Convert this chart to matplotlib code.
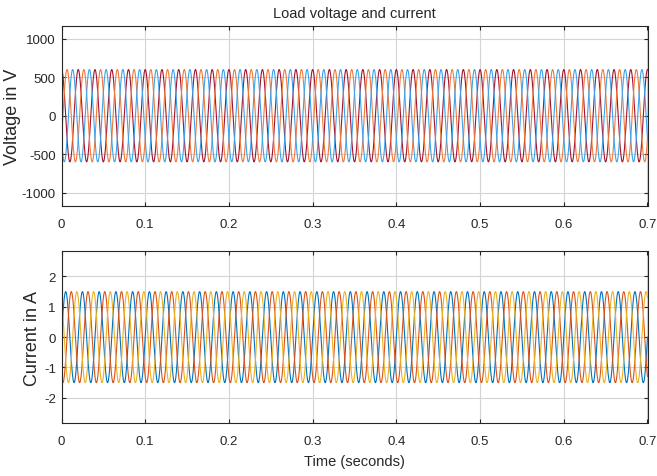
import numpy as np
import matplotlib
matplotlib.use("Agg")
import matplotlib.pyplot as plt

plt.rcParams['font.family'] = ['Liberation Sans', 'DejaVu Sans']
plt.rcParams['axes.unicode_minus'] = False

# waveform parameters
freq_hz = 50
t_end = 0.7
v_peak = 600
i_peak = 1.5
v_phase_deg = [0, -120, 120]      # red, orange, light blue
i_phase_deg = [0, -120, 120]      # blue, orange, yellow
v_colors = ['#A2142F', '#F07A3A', '#3BA3EC']
i_colors = ['#0072BD', '#D95319', '#EDB120']

x_ticks = [0, 0.1, 0.2, 0.3, 0.4, 0.5, 0.6, 0.7]
v_ticks = [-1000, -500, 0, 500, 1000]
i_ticks = [-2, -1, 0, 1, 2]

t = np.arange(0, t_end + 1e-9, 2e-4)
w = 2 * np.pi * freq_hz

fig = plt.figure(figsize=(6.57, 4.77), dpi=100)
ax1 = fig.add_axes([61.5/657, 1 - 206.7/477, 586/657, 180/477])
ax2 = fig.add_axes([61.5/657, 1 - 424/477, 586/657, 171.7/477])

for ph, c in zip(v_phase_deg, v_colors):
    ax1.plot(t, v_peak * np.cos(w * t + np.radians(ph)), color=c, lw=0.8)
for ph, c in zip(i_phase_deg, i_colors):
    ax2.plot(t, i_peak * np.sin(w * t + np.radians(ph)), color=c, lw=0.8)

ax1.set_ylim(-1170, 1170)
ax2.set_ylim(-2.83, 2.83)
ax1.set_yticks(v_ticks)
ax2.set_yticks(i_ticks)

for ax in (ax1, ax2):
    ax.set_xlim(0, t_end)
    ax.set_xticks(x_ticks)
    ax.set_xticklabels([f'{v:g}' for v in x_ticks])
    ax.grid(True, color='#d4d4d4', lw=0.8)
    ax.set_axisbelow(True)
    ax.tick_params(direction='in', top=True, right=True, length=3,
                   labelsize=9.5, colors='#262626')
    ax.tick_params(axis='x', pad=9)
    ax.tick_params(axis='y', pad=4)
    for s in ax.spines.values():
        s.set_color('#262626')
        s.set_linewidth(0.8)

ax1.set_title('Load voltage and current', fontsize=10.5, color='#262626', pad=6)
ax1.set_ylabel('Voltage in V', fontsize=13, color='#262626')
ax2.set_ylabel('Current in A', fontsize=13, color='#262626')
ax1.yaxis.set_label_coords((21 - 61.5) / 586, 0.5)
ax2.yaxis.set_label_coords((41 - 61.5) / 586, 0.5)
ax2.set_xlabel('Time (seconds)', fontsize=10.5, color='#262626', labelpad=5)

fig.savefig('out.png', dpi=100)
